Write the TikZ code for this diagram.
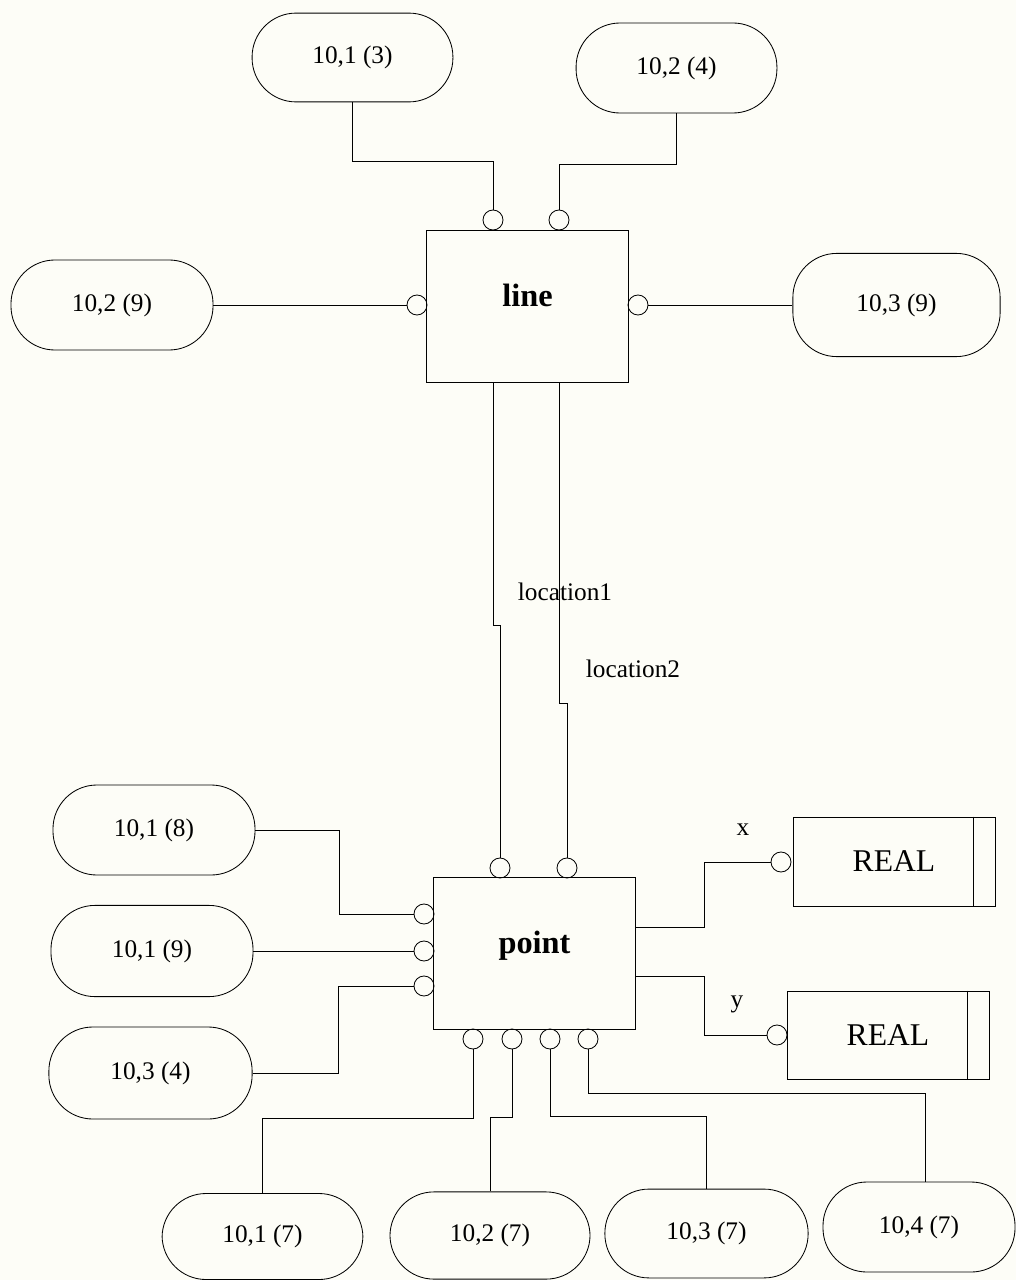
\documentclass[tikz,border=0pt]{standalone}
\usepackage{fontspec}
\setmainfont{Liberation Serif}
\usetikzlibrary{calc}
\definecolor{paper}{RGB}{253,253,247}

\begin{document}
\begin{tikzpicture}[x=0.025cm, y=-0.025cm, line width=0.6pt,
    oval/.style={draw, rounded corners=1.1cm, minimum width=5.05cm, minimum height=2.25cm, inner sep=0pt, font=\fontsize{18}{20}\selectfont},
    entity/.style={draw, minimum width=5.03cm, minimum height=3.8cm, text depth=0.55cm, font=\fontsize{23}{26}\selectfont\bfseries},
    basetype/.style={draw, minimum width=5.05cm, minimum height=2.22cm, font=\fontsize{22.5}{25}\selectfont},
    port/.style={draw, circle, minimum size=0.5cm, inner sep=0pt},
    rolename/.style={font=\fontsize{18}{20}\selectfont}]
    \fill[paper] (0,0) rectangle (1016,1280);
    \useasboundingbox (0,0) rectangle (1016,1280);
    % Entities
    \node[entity] (line) at (527.5,306.5) {line};
    \node[entity, minimum height=3.78cm] (point) at (534.5,953.5) {point};
    % Base types
    \node[basetype] (real1) at (894,861.5) {REAL};
    \node[basetype, minimum height=2.2cm] (real2) at (888,1035) {REAL};
    \draw ([xshift=-0.55cm]real1.north east) -- ([xshift=-0.55cm]real1.south east);
    \draw ([xshift=-0.55cm]real2.north east) -- ([xshift=-0.55cm]real2.south east);
    % Page references round line
    \node[oval, minimum width=5.02cm, minimum height=2.22cm] (o13) at (352.5,57.5) {10,1 (3)};
    \node[oval, minimum width=5.02cm] (o24) at (676.5,68) {10,2 (4)};
    \node[oval] (o29) at (112,305) {10,2 (9)};
    \node[oval, minimum width=5.18cm, minimum height=2.58cm] (o39) at (896.5,305) {10,3 (9)};
    % Page references round point
    \node[oval] (o18) at (154,830) {10,1 (8)};
    \node[oval, minimum height=2.28cm] (o19) at (152,951) {10,1 (9)};
    \node[oval, minimum width=5.08cm, minimum height=2.3cm] (o34) at (150.5,1073) {10,3 (4)};
    \node[oval, minimum width=5.02cm, minimum height=2.15cm] (o17) at (262.5,1236.5) {10,1 (7)};
    \node[oval, minimum width=5cm, minimum height=2.18cm] (o27) at (490,1235.5) {10,2 (7)};
    \node[oval, minimum width=5.08cm, minimum height=2.22cm] (o37) at (706.5,1233.5) {10,3 (7)};
    \node[oval, minimum width=4.8cm] (o47) at (919,1227) {10,4 (7)};
    \coordinate (o47in) at ([xshift=0.15cm]o47.north);
    % Ports
    \node[port] (lp1) at (493,220) {};
    \node[port] (lp2) at (559,220) {};
    \node[port] (lpl) at (417,305) {};
    \node[port] (lpr) at (638,305) {};
    \node[port] (pt1) at (500,868) {};
    \node[port] (pt2) at (567,868) {};
    \foreach \n/\y in {1/914, 2/951, 3/986}
        \node[port] (pl\n) at (424,\y) {};
    \foreach \n/\x in {1/473, 2/512, 3/550, 4/588}
        \node[port] (pb\n) at (\x,1039) {};
    \node[port] (rx) at (781,862) {};
    \node[port] (ry) at (777,1035) {};
    % Connectors of line
    \draw (o13) |- (lp1 |- 0,161) -- (lp1);
    \draw (o24) |- (lp2 |- 0,164) -- (lp2);
    \draw (o29) -- (lpl);
    \draw (lpr) -- (o39);
    \draw (line.south -| lp1) -- ++(0,242) -- ++(7,0) -- (pt1);
    \draw (line.south -| lp2) -- ++(0,320) -- ++(8,0) -- (pt2);
    \node[rolename] (loc1) at (565,592) {location1};
    \node[rolename] (loc2) at (633,669) {location2};
    % Connectors of point
    \draw (o18.east) -- ++(84,0) |- (pl1);
    \draw (o19) -- (pl2);
    \draw (o34.east) -- ++(86,0) |- (pl3);
    \draw (point.east |- 0,927) -- ++(69,0) |- (rx);
    \draw (point.east |- 0,976) -- ++(69,0) |- (ry);
    \node[rolename] (lx) at (743,830) {x};
    \node[rolename] (ly) at (737,1004) {y};
    \draw (pb1) |- (o17 |- 0,1118) -- (o17);
    \draw (pb2) |- (o27 |- 0,1117) -- (o27);
    \draw (pb3) |- (o37 |- 0,1116) -- (o37);
    \draw (pb4) |- (o47in |- 0,1093) -- (o47in);
\end{tikzpicture}
\end{document}
